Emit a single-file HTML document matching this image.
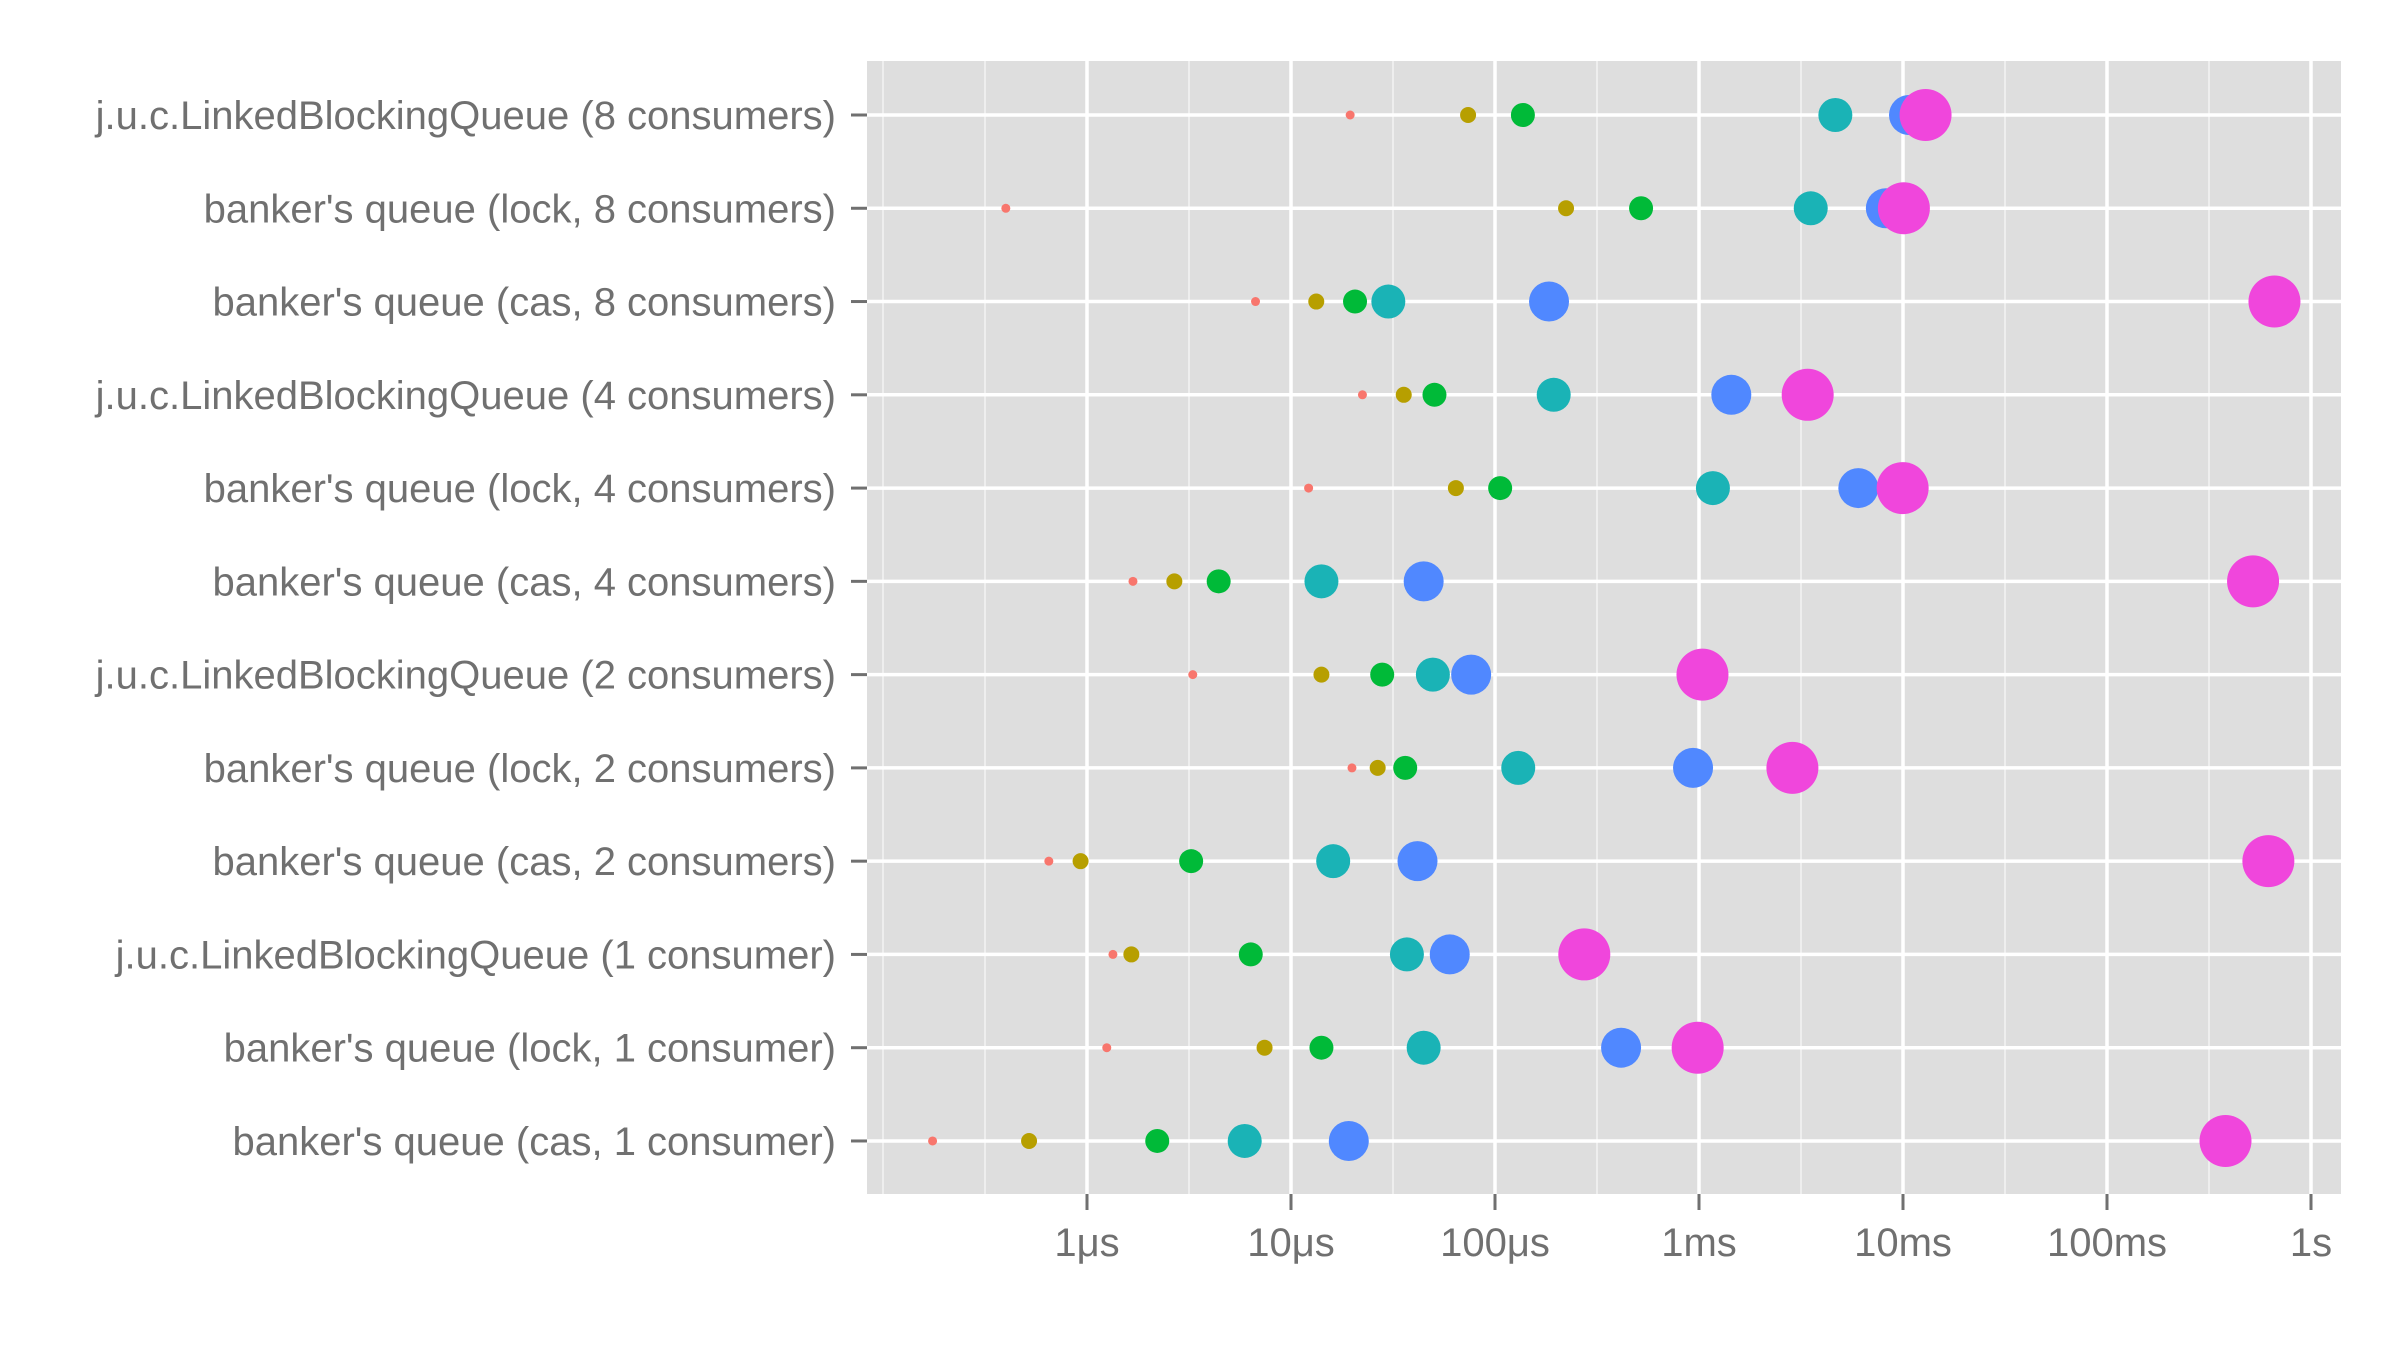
<!DOCTYPE html>
<html><head><meta charset="utf-8"><style>
html,body{margin:0;padding:0;background:#fff;}
svg{display:block;font-family:"Liberation Sans",sans-serif;}
</style></head><body>
<svg id="chart" width="2400" height="1350" viewBox="0 0 2400 1350">
<rect x="867" y="61" width="1474" height="1133" fill="#dedede"/>
<g id="grid"></g><g id="marks"></g><g id="axes"></g>
</svg>
<script>
const categories = ["j.u.c.LinkedBlockingQueue (8 consumers)","banker's queue (lock, 8 consumers)","banker's queue (cas, 8 consumers)","j.u.c.LinkedBlockingQueue (4 consumers)","banker's queue (lock, 4 consumers)","banker's queue (cas, 4 consumers)","j.u.c.LinkedBlockingQueue (2 consumers)","banker's queue (lock, 2 consumers)","banker's queue (cas, 2 consumers)","j.u.c.LinkedBlockingQueue (1 consumer)","banker's queue (lock, 1 consumer)","banker's queue (cas, 1 consumer)"];
// values in microseconds, per series (smallest -> largest marker)
const s1 = [19.5,0.40,6.7,22.4,12.2,1.68,3.3,19.9,0.65,1.34,1.25,0.175];
const s2 = [73.8,223,13.3,35.7,64.3,2.68,14.1,26.6,0.93,1.65,7.42,0.52];
const s3 = [137,520,20.6,50.5,106,4.42,28,36.3,3.24,6.35,14.1,2.21];
const s4 = [4660,3530,30,194,1170,14.1,49.6,130,16.1,37,44.7,5.93];
const s5 = [10700,8240,184,1440,6040,44.7,76.4,935,41.7,60,415,19.2];
const s6 = [12900,10100,662000,3410,9960,520000,1040,2870,618000,274,985,381000];
const tickValues = [1,10,100,1000,10000,100000,1000000];
const tickLabels = ["1μs","10μs","100μs","1ms","10ms","100ms","1s"];

const NS="http://www.w3.org/2000/svg";
function x(v){return 1087+204*Math.log10(v);}
function y(i){return 115+i*93.27;}
function mk(tag,attrs,parent){const e=document.createElementNS(NS,tag);for(const k in attrs)e.setAttribute(k,attrs[k]);parent.appendChild(e);return e;}
const grid=document.getElementById('grid'),marks=document.getElementById('marks'),axes=document.getElementById('axes');
for(let p=-1;p<=6;p+=0.5){
  if(Number.isInteger(p)&&p>=0)continue;
  const xx=x(Math.pow(10,p));
  const l=mk('line',{x1:xx,x2:xx,y1:61,y2:1194,stroke:'#f2f2f2','stroke-width':1.6},grid);
  
  
}
tickValues.forEach((v,i)=>{
  const xx=x(v);
  const l=mk('line',{x1:xx,x2:xx,y1:61,y2:1194,stroke:'#fff','stroke-width':3.5},grid);
  
  
  const t=mk('line',{x1:xx,x2:xx,y1:1194,y2:1210,stroke:'#707070','stroke-width':3},axes);
  
  
  const tx=mk('text',{x:xx,y:1256,'text-anchor':'middle','font-size':40,fill:'#707070'},axes);
  tx.textContent=tickLabels[i];
  
  
});
categories.forEach((c,i)=>{
  const yy=y(i);
  const l=mk('line',{x1:867,x2:2341,y1:yy,y2:yy,stroke:'#fff','stroke-width':3.5},grid);
  
  
  const t=mk('line',{x1:851,x2:867,y1:yy,y2:yy,stroke:'#707070','stroke-width':3},axes);
  
  
  const tx=mk('text',{x:836,y:yy+14,'text-anchor':'end','font-size':40,fill:'#707070'},axes);
  tx.textContent=c;
  
  
});
const series=[s1,s2,s3,s4,s5,s6];
const colors=['#F8766D','#B79F00','#00BA38','#1AB3B6','#5088FF','#F046DC'];
const radii=[4.5,8,12,17,20,26];
series.forEach((s,si)=>{
  s.forEach((v,i)=>{
    const c=mk('circle',{cx:x(v),cy:y(i),r:radii[si],fill:colors[si]},marks);
    
    
  });
});
</script>
</body></html>
